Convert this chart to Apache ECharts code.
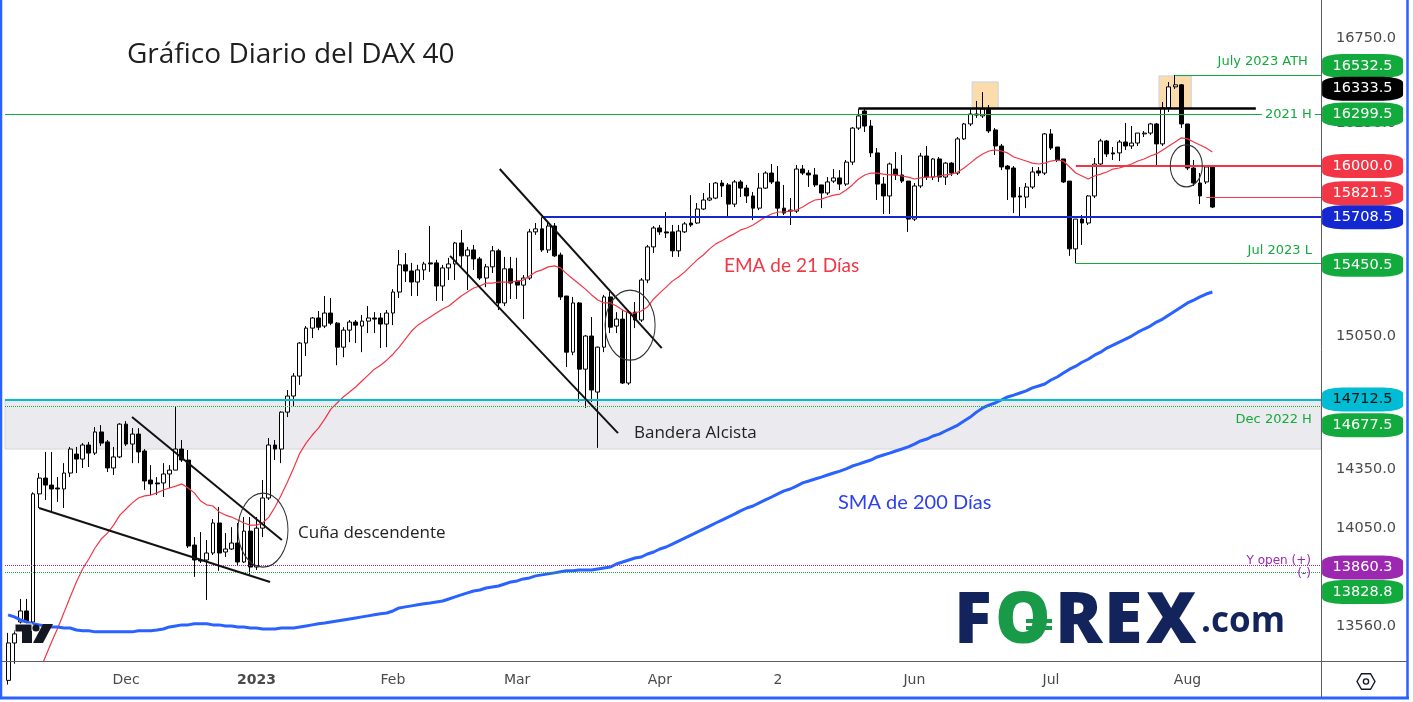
<!DOCTYPE html>
<html><head><meta charset="utf-8">
<script src="https://cdn.jsdelivr.net/npm/echarts@6/dist/echarts.min.js"></script>
<style>html,body{margin:0;padding:0;background:#fff}#c{width:1413px;height:702px}</style>
</head><body><div id="c"></div>
<script>
// ---- trading days (category axis), incl. empty future slots ----
const tradingDays = {
  '2022-11': [4,7,8,9,10,11,14,15,16,17,18,21,22,23,24,25,28,29,30],
  '2022-12': [1,2,5,6,7,8,9,12,13,14,15,16,19,20,21,22,23,27,28,29,30],
  '2023-01': [2,3,4,5,6,9,10,11,12,13,16,17,18,19,20,23,24,25,26,27,30,31],
  '2023-02': [1,2,3,6,7,8,9,10,13,14,15,16,17,20,21,22,23,24,27,28],
  '2023-03': [1,2,3,6,7,8,9,10,13,14,15,16,17,20,21,22,23,24,27,28,29,30,31],
  '2023-04': [3,4,5,6,11,12,13,14,17,18,19,20,21,24,25,26,27,28],
  '2023-05': [2,3,4,5,8,9,10,11,12,15,16,17,18,19,22,23,24,25,26,29,30,31],
  '2023-06': [1,2,5,6,7,8,9,12,13,14,15,16,19,20,21,22,23,26,27,28,29,30],
  '2023-07': [3,4,5,6,7,10,11,12,13,14,17,18,19,20,21,24,25,26,27,28,31],
  '2023-08': [1,2,3,4,7,8,9,10,11,14,15,16,17,18,21,22,23,24,25,28,29,30,31],
  '2023-09': [1]
};
// time-scale labels, at the bars where the reference prints them
const monthLabels = {
  '2022-12-01':'Dec','2023-01-02':'2023','2023-02-01':'Feb','2023-03-01':'Mar',
  '2023-04-03':'Apr','2023-05-03':'2','2023-06-02':'Jun','2023-07-04':'Jul','2023-08-03':'Aug'
};
// ---- daily candles [open, high, low, close] ----
const ohlc = [
[13300,13529,13280,13480],[13480,13543,13380,13524],[13582,13695,13568,13636],[13636,13695,13568,13582],
[13582,14230,13570,14222],[14222,14329,14150,14303],[14303,14438,14191,14267],[14267,14438,14130,14247],
[14252,14308,14181,14247],[14247,14380,14150,14329],[14329,14464,14308,14453],[14427,14464,14329,14401],
[14401,14484,14355,14474],[14474,14490,14360,14432],[14432,14568,14422,14542],[14542,14578,14469,14484],
[14490,14500,14334,14355],[14355,14464,14319,14412],[14412,14588,14406,14583],
[14583,14599,14469,14479],[14479,14562,14380,14531],[14531,14562,14380,14438],[14443,14453,14242,14288],
[14293,14370,14216,14273],[14278,14308,14216,14273],[14278,14380,14206,14324],[14324,14370,14252,14344],
[14344,14677.5,14344,14453],[14453,14500,14386,14396],[14396,14448,13948,13958],[13963,14003,13804,13888],
[13888,14028,13873,13883],[13888,13988,13690,13923],[13923,14094,13913,14074],[14074,14155,13834,13923],
[13928,14023,13903,13943],[13943,14053,13938,13973],[13973,14074,13863,13878],[13878,14104,13873,14033],
[14033,14104,13814,13853],
[13853,14104,13838,14048],[14048,14293,14003,14201],[14201,14510,14191,14474],[14474,14500,14396,14453],
[14453,14650,14380,14646],[14646,14763,14620,14731],[14731,14853,14673,14837],[14837,15019,14790,15014],
[15014,15106,14944,15095],[15095,15155,15041,15150],[15150,15188,15084,15100],[15106,15270,15095,15177],
[15177,15259,15111,15122],[15122,15128,14895,14992],[14992,15100,14938,15084],[15084,15139,15019,15128],
[15128,15139,15014,15111],[15106,15166,14965,15133],[15133,15215,15068,15150],[15150,15182,15068,15144],
[15150,15177,14987,15117],[15117,15193,14992,15177],
[15177,15308,15111,15292],[15292,15525,15259,15442],[15442,15508,15347,15408],[15408,15453,15270,15347],
[15347,15442,15270,15414],[15414,15459,15358,15447],[15453,15659,15403,15447],[15453,15470,15243,15325],
[15325,15442,15243,15425],[15425,15481,15358,15447],[15447,15570,15358,15564],[15564,15637,15431,15492],
[15492,15542,15303,15525],[15525,15553,15414,15475],[15475,15486,15358,15369],[15369,15447,15319,15431],
[15431,15547,15397,15520],[15520,15531,15193,15232],[15232,15486,15215,15420],[15420,15486,15254,15341],
[15352,15481,15254,15330],[15330,15386,15144,15369],[15369,15643,15358,15626],[15626,15676,15609,15643],
[15643,15708.5,15514,15525],[15525,15676,15508,15659],[15659,15676,15486,15492],[15497,15510,15248,15265],
[15270,15270,14885,14965],[14965,15265,14949,15232],[15232,15237,14699,14874],[14874,15057,14668,15052],
[15052,15155,14699,14763],[14752,14995,14459,14992],[14992,15276,14965,15265],[15265,15292,15068,15100],
[15106,15182,15068,15144],[15144,15193,14795,14800],[14800,15193,14790,15182],[15182,15237,15095,15139],
[15139,15369,15128,15358],[15358,15553,15341,15542],[15542,15659,15508,15648],
[15648,15665,15609,15626],[15626,15738,15592,15620],[15626,15665,15486,15520],[15520,15665,15486,15631],
[15626,15682,15620,15671],[15676,15834,15654,15665],[15676,15789,15671,15755],[15755,15846,15749,15806],
[15806,15903,15800,15817],[15817,15909,15811,15903],[15903,15920,15823,15886],[15892,15903,15704,15783],
[15783,15920,15766,15909],[15909,15920,15823,15874],[15874,15892,15789,15829],[15829,15852,15693,15760],
[15760,15960,15749,15874],[15874,15970,15869,15960],
[15960,16012,15897,15909],[15909,16000,15710,15760],[15760,15892,15721,15732],[15743,15817,15665,15749],
[15743,16006,15732,15983],[15983,16006,15949,15960],[15960,15977,15880,15949],[15949,15989,15880,15892],
[15892,15892,15760,15846],[15846,15937,15834,15909],[15914,15983,15903,15932],[15932,15977,15863,15897],
[15897,16035,15886,16023],[16023,16226,16006,16220],[16220,16333.5,16209,16291],[16320,16333.5,16197,16232],
[16232,16267,16052,16076],[16076,16104,15806,15897],[15897,15937,15727,15829],[15829,16020,15727,16012],
[15983,16081,15920,15949],[15949,16064,15903,15914],
[15914,15914,15626,15698],[15698,15903,15687,15886],[15886,16076,15874,16058],[16058,16116,15920,15937],
[15937,16046,15920,16041],[16041,16052,15909,15937],[15937,16023,15892,16017],[16017,16023,15943,15960],
[15960,16168,15949,16157],[16157,16250,16151,16244],[16244,16332,16232,16302],[16302,16379,16279,16296],
[16291,16431,16279,16332],[16332,16355,16191,16203],[16209,16220,16064,16116],[16116,16128,15977,15995],
[16000,16006,15806,15983],[15989,16000,15732,15823],[15829,15880,15710,15823],[15823,15903,15760,15880],
[15880,15995,15869,15966],[15972,15995,15943,15960],
[15960,16191,15949,16186],[16186,16214,16093,16104],[16110,16110,16023,16035],[16041,16041,15903,15909],
[15914,15914,15492,15531],[15531,15698,15450.5,15698],[15698,15721,15553,15676],[15676,15834,15665,15829],
[15829,16046,15817,16012],[16012,16157,16000,16145],[16145,16151,16052,16070],[16076,16110,16035,16070],
[16076,16151,16029,16139],[16139,16250,16093,16116],[16116,16232,16099,16133],[16133,16191,16116,16191],
[16186,16203,16168,16191],[16191,16250,16180,16244],[16244,16250,16006,16128],[16128,16373,16116,16338],
[16338,16491,16314,16462],
[16462,16532.5,16450,16474],[16474,16479,16220,16244],[16244,16244,15977,15989],[15989,16035,15886,15903],
[15903,15960,15783,15829],[15909,15995,15897,15995],[15995,15995,15760,15766]
];
// ---- EMA 21 (red) ----
const ema21 = [
13130,13160,13200,13240,13280,13345,13412,13485,13553,13628,13705,13779,13843,13893,13948,13993,14023,14063,14114,
14145,14176,14201,14212,14216,14227,14242,14252,14262,14273,14252,14227,14186,14166,14160,14130,14114,14104,14089,14074,14063,
14063,14074,14104,14155,14216,14283,14355,14432,14484,14526,14562,14609,14662,14694,14726,14752,14779,14811,14842,14874,14895,14922,
14954,14992,15035,15079,15111,15133,15155,15177,15199,15215,15243,15270,15292,15314,15325,15341,15341,15347,15347,15347,
15352,15358,15380,15403,15414,15431,15436,15425,15392,15364,15336,15308,15276,15248,15232,15232,15215,15193,15177,15177,15188,15210,15254,
15287,15319,15352,15375,15403,15436,15470,15497,15531,15559,15576,15598,15615,15637,15648,15665,15687,15710,
15727,15738,15738,15743,15749,15766,15789,15806,15811,15823,15834,15840,15863,15892,15926,15949,15960,15960,15954,15949,15949,15943,
15937,15926,15932,15937,15937,15943,15949,15954,15966,15989,16017,16046,16070,16087,16093,16087,16076,16052,16041,16029,16017,16012,
16017,16029,16035,16029,15995,15960,15943,15926,15943,15954,15966,15983,15989,16000,16012,16029,16041,16058,16070,16093,16116,
16139,16163,16157,16139,16122,16104,16081
];
// ---- SMA 200 (blue) ----
const sma200 = [
13617,13607,13592,13582,13573,13568,13563,13558,13558,13553,13553,13543,13539,13539,13534,13534,13534,13534,13534,
13534,13534,13539,13539,13539,13543,13548,13558,13563,13568,13568,13573,13573,13573,13568,13568,13563,13563,13558,13558,13553,
13553,13548,13548,13548,13553,13553,13553,13558,13563,13568,13573,13577,13582,13587,13592,13597,13602,13607,13612,13617,13622,13626,
13636,13651,13656,13661,13666,13671,13675,13680,13685,13695,13705,13715,13725,13734,13739,13749,13754,13759,13769,13779,
13784,13794,13799,13809,13814,13819,13824,13829,13834,13834,13838,13838,13838,13843,13848,13853,13868,13878,13888,13898,13903,13918,13928,
13943,13953,13968,13983,13998,14013,14028,14043,14058,14074,14089,14104,14119,14135,14150,14160,14176,14191,
14206,14222,14237,14247,14262,14278,14288,14298,14308,14319,14329,14339,14350,14365,14375,14386,14396,14412,14422,14432,14443,14453,
14464,14479,14495,14505,14521,14531,14547,14562,14578,14599,14620,14646,14668,14683,14694,14710,14726,14736,14747,14758,14774,14784,
14795,14816,14832,14853,14874,14890,14911,14927,14949,14965,14987,15003,15019,15035,15052,15073,15090,15106,15128,15144,15166,
15188,15210,15232,15248,15265,15281,15292
];
// ---- price scale ----
const yRange = [13393, 16984];
const yTicks = [16750, 16250, 15050, 14350, 14050, 13560];
// ---- drawn levels ----
const priceTags = [16532.5, 16333.5, 16299.5, 16000.0, 15821.5, 15708.5, 15450.5, 14712.5, 14677.5, 13860.3, 13828.8];
const bandLevels = [14712.5, 14453];
// trendlines [[barFrom, priceFrom], [barTo, priceTo]]
const trendLines = [
  [[19.96, 14620], [44.1, 13988]],
  [[4.98, 14150], [42.2, 13779]],
  [[79.2, 15983], [105.3, 14987]],
  [[71.2, 15492], [98.25, 14536]]
];
const ellipses = [[41.06, 14038], [100.2, 15111], [189.8, 16001]];
const highlightBoxes = [[[155.3, 16491], [159.5, 16332]], [[185.4, 16527], [190.6, 16338]]];

// ---------- build ----------
const categories = [];
Object.keys(tradingDays).forEach(m => tradingDays[m].forEach(d => categories.push(m + '-' + String(d).padStart(2, '0'))));
const xEnd = categories.length - 0.5;
const xTag = xEnd - 0.1;
const candleData = ohlc.map(r => [r[0], r[3], r[2], r[1]]);

const GREEN = '#12aa3c', RED = '#f23645', BLUE = '#1428d2', CYAN = '#00bcd4', PURPLE = '#9c27b0';
const FONT = 'DejaVu Sans';
function seg(x1, x2, v, style) { return [{coord: [x1, v], lineStyle: style}, {coord: [x2, v], lineStyle: style}]; }

const tagStyles = [
  {bg: GREEN, fg: '#fff', dy: -9}, {bg: '#000', fg: '#fff', dy: -20}, {bg: GREEN, fg: '#fff', dy: 0},
  {bg: RED, fg: '#fff', dy: 0}, {bg: RED, fg: '#fff', dy: -4}, {bg: BLUE, fg: '#fff', dy: 0},
  {bg: GREEN, fg: '#fff', dy: 1.5}, {bg: CYAN, fg: '#111', dy: 0}, {bg: GREEN, fg: '#fff', dy: 19},
  {bg: PURPLE, fg: '#fff', dy: 2}, {bg: GREEN, fg: '#fff', dy: 20}
];
const tagPoints = priceTags.map((v, i) => ({
  coord: [xTag, v], symbol: 'roundRect', symbolSize: [81, 24], symbolOffset: [42.2, tagStyles[i].dy],
  itemStyle: {color: tagStyles[i].bg},
  label: {show: true, position: 'inside', formatter: v.toFixed(1), color: tagStyles[i].fg, fontSize: 14.5, fontFamily: FONT}
}));
function textPoint(v, text, dy, dist, color, size, bg) {
  return {coord: [xTag, v], symbol: 'rect', symbolSize: [1, 1], symbolOffset: [0, dy],
    itemStyle: {color: 'rgba(0,0,0,0)'},
    label: {show: true, position: 'left', distance: dist, formatter: text, color: color, fontSize: size || 13,
      fontFamily: FONT, backgroundColor: bg || 'transparent', padding: bg ? [1, 3] : 0}};
}
const levelTexts = [
  textPoint(16532.5, 'July 2023 ATH', -13.5, 12, GREEN),
  textPoint(16299.5, '2021 H', 0, 5, GREEN, 13, '#ffffff'),
  textPoint(15450.5, 'Jul 2023 L', -12.5, 8, GREEN),
  textPoint(14677.5, 'Dec 2022 H', 13, 8, GREEN),
  textPoint(13860.3, 'Y open (+)', -5, 9, PURPLE, 12),
  textPoint(13828.8, '(-)', 2, 9, PURPLE, 12)
];

const lineData = [
  {yAxis: 16299.5, lineStyle: {color: GREEN, width: 1, type: 'solid'}},
  {yAxis: 14677.5, lineStyle: {color: GREEN, width: 1, type: 'dotted'}},
  {yAxis: 13860.3, lineStyle: {color: PURPLE, width: 1, type: 'dotted'}},
  {yAxis: 13828.8, lineStyle: {color: GREEN, width: 1, type: 'dotted'}},
  {yAxis: 14712.5, lineStyle: {color: CYAN, width: 2, type: 'solid'}},
  seg(188, xEnd, 16532.5, {color: GREEN, width: 1, type: 'solid'}),
  seg(137, 201, 16333.5, {color: '#000', width: 2.5, type: 'solid'}),
  seg(172, xEnd, 16000, {color: RED, width: 2, type: 'solid'}),
  seg(193, xEnd, 15821.5, {color: RED, width: 1, type: 'solid'}),
  seg(86, xEnd, 15708.5, {color: BLUE, width: 2, type: 'solid'}),
  seg(172, xEnd, 15450.5, {color: GREEN, width: 1, type: 'solid'})
].concat(trendLines.map(t => [
  {coord: t[0], lineStyle: {color: '#111', width: 2, type: 'solid'}},
  {coord: t[1], lineStyle: {color: '#111', width: 2, type: 'solid'}}
]));

const ellipseSizes = [[50, 74], [50, 70], [32, 42]];

const option = {
  animation: false,
  backgroundColor: '#ffffff',
  grid: {left: 5, right: 92, top: 0, bottom: 41},
  xAxis: [
    {type: 'category', data: categories, boundaryGap: true,
     axisLine: {show: false}, axisTick: {show: false}, splitLine: {show: false},
     axisLabel: {
       interval: (i, v) => monthLabels[v] !== undefined,
       formatter: v => v === '2023-01-02' ? '{b|2023}' : (monthLabels[v] || ''),
       color: '#4a4a4a', fontSize: 14, fontFamily: FONT, margin: 12,
       rich: {b: {fontWeight: 'bold', color: '#4a4a4a', fontSize: 14, fontFamily: FONT}}
     }},
    {type: 'value', min: -0.5, max: xEnd, show: false}
  ],
  yAxis: {
    type: 'log', logBase: 10, position: 'right', min: yRange[0], max: yRange[1],
    axisLine: {show: false}, axisTick: {show: false}, splitLine: {show: false},
    axisLabel: {customValues: yTicks, formatter: v => Number(v).toFixed(1), color: '#4a4a4a',
      fontSize: 14.5, fontFamily: FONT, margin: 15}
  },
  series: [
    {type: 'line', xAxisIndex: 1, yAxisIndex: 0, data: [], silent: true, z: 1,
     markArea: {silent: true, data: [
       [{yAxis: bandLevels[0], itemStyle: {color: '#ebebef', borderColor: '#d4d4da', borderWidth: 1}}, {yAxis: bandLevels[1]}]
     ].concat(highlightBoxes.map(b => [
       {coord: b[0], itemStyle: {color: '#fddcab', borderColor: '#c6d2e6', borderWidth: 1}}, {coord: b[1]}
     ]))}},
    {type: 'candlestick', xAxisIndex: 0, yAxisIndex: 0, data: candleData, barWidth: '70%', z: 3,
     itemStyle: {color: '#ffffff', color0: '#000000', borderColor: '#000000', borderColor0: '#000000', borderWidth: 1}},
    {type: 'line', xAxisIndex: 0, yAxisIndex: 0, data: ema21, symbol: 'none', silent: true, z: 4,
     lineStyle: {color: RED, width: 1.2}},
    {type: 'line', xAxisIndex: 0, yAxisIndex: 0, data: sma200, symbol: 'none', silent: true, z: 4,
     lineStyle: {color: '#2962ff', width: 3}},
    {type: 'line', xAxisIndex: 1, yAxisIndex: 0, data: [], silent: true, z: 5,
     markLine: {silent: true, symbol: ['none', 'none'], label: {show: false}, data: lineData},
     markPoint: {silent: true, symbol: 'path://M0,50A50,50 0 1,1 100,50A50,50 0 1,1 0,50Z',
       itemStyle: {color: 'rgba(0,0,0,0)', borderColor: '#333', borderWidth: 1.2},
       label: {show: false},
       data: ellipses.map((e, i) => ({coord: e, symbolSize: ellipseSizes[i]}))}},
    {type: 'line', xAxisIndex: 1, yAxisIndex: 0, data: [], silent: true, z: 6,
     markPoint: {silent: true, data: tagPoints.concat(levelTexts)}}
  ],
  graphic: [
    {type: 'line', silent: true, shape: {x1: 0, y1: 661.5, x2: 1408, y2: 661.5}, style: {stroke: '#5b5e66', lineWidth: 1}, z: 10},
    {type: 'line', silent: true, shape: {x1: 1321.5, y1: 0, x2: 1321.5, y2: 699}, style: {stroke: '#5b5e66', lineWidth: 1}, z: 10},
    {type: 'line', silent: true, shape: {x1: 1, y1: 0, x2: 1, y2: 699}, style: {stroke: '#2962ff', lineWidth: 2.5}, z: 20},
    {type: 'line', silent: true, shape: {x1: 1407.5, y1: 0, x2: 1407.5, y2: 699}, style: {stroke: '#2962ff', lineWidth: 2.5}, z: 20},
    {type: 'line', silent: true, shape: {x1: 0, y1: 698, x2: 1409, y2: 698}, style: {stroke: '#2962ff', lineWidth: 3}, z: 20},
    // gear
    {type: 'polygon', silent: true, shape: {points: [[1375,681.5],[1370.5,689.3],[1361.5,689.3],[1357,681.5],[1361.5,673.7],[1370.5,673.7]]},
     style: {fill: 'none', stroke: '#131722', lineWidth: 1.4}, z: 10},
    {type: 'circle', silent: true, shape: {cx: 1366, cy: 681.5, r: 2.6}, style: {fill: 'none', stroke: '#131722', lineWidth: 1.4}, z: 10},
    // title & annotations
    {type: 'text', silent: true, z: 10, style: {x: 127, y: 55, text: 'Gráfico Diario del DAX 40', font: '400 28px "Open Sans"', fill: '#1e1e1e', textVerticalAlign: 'middle'}},
    {type: 'text', silent: true, z: 10, style: {x: 724, y: 266, text: 'EMA de 21 Días', font: '400 19px Lato', fill: RED, textVerticalAlign: 'middle'}},
    {type: 'text', silent: true, z: 10, style: {x: 838, y: 503, text: 'SMA de 200 Días', font: '400 20px Lato', fill: '#2e41f0', textVerticalAlign: 'middle'}},
    {type: 'text', silent: true, z: 10, style: {x: 634, y: 433, text: 'Bandera Alcista', font: '400 17px "Open Sans"', fill: '#222', textVerticalAlign: 'middle'}},
    {type: 'text', silent: true, z: 10, style: {x: 298, y: 533, text: 'Cuña descendente', font: '400 17px "Open Sans"', fill: '#222', textVerticalAlign: 'middle'}},
    // TradingView mark
    {type: 'rect', silent: true, z: 10, shape: {x: 15, y: 624, width: 17, height: 8}, style: {fill: '#131722', stroke: '#fff', lineWidth: 1}},
    {type: 'rect', silent: true, z: 10, shape: {x: 22, y: 631, width: 10, height: 12}, style: {fill: '#131722'}},
    {type: 'circle', silent: true, z: 10, shape: {cx: 36, cy: 628, r: 3.6}, style: {fill: '#131722'}},
    {type: 'polygon', silent: true, z: 10, shape: {points: [[43,624],[53,624],[43,643],[33,643]]}, style: {fill: '#131722'}},
    // FOREX.com logo
    {type: 'text', silent: true, z: 10, style: {x: 954, y: 623, text: 'F', font: '800 70px "Open Sans"', fill: '#13235b', textVerticalAlign: 'middle'}},
    {type: 'text', silent: true, z: 10, style: {x: 995, y: 623, text: 'O', font: '800 70px "Open Sans"', fill: '#189a48', textVerticalAlign: 'middle'}},
    {type: 'rect', silent: true, z: 11, shape: {x: 1026, y: 619, width: 26, height: 4}, style: {fill: '#189a48'}},
    {type: 'rect', silent: true, z: 11, shape: {x: 1026, y: 626, width: 26, height: 4}, style: {fill: '#189a48'}},
    {type: 'text', silent: true, z: 10, style: {x: 1055, y: 623, text: 'R', font: '800 70px "Open Sans"', fill: '#13235b', textVerticalAlign: 'middle'}},
    {type: 'text', silent: true, z: 10, style: {x: 1104, y: 623, text: 'E', font: '800 70px "Open Sans"', fill: '#13235b', textVerticalAlign: 'middle'}},
    {type: 'text', silent: true, z: 10, style: {x: 1146, y: 623, text: 'X', font: '800 70px "Open Sans"', fill: '#13235b', textVerticalAlign: 'middle'}},
    {type: 'text', silent: true, z: 10, style: {x: 1201, y: 622, text: '.com', font: '700 35px "Open Sans"', fill: '#13235b', textVerticalAlign: 'middle'}}
  ]
};
const chart = echarts.init(document.getElementById('c'), null, {renderer: 'canvas'});
chart.setOption(option);
</script>
</body></html>
